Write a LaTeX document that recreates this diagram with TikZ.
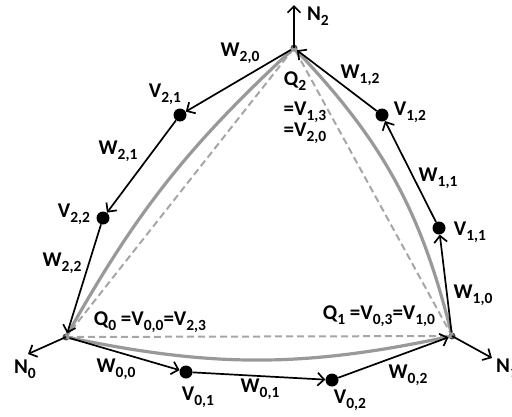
\documentclass[tikz,border=0pt]{standalone}
\usepackage{fontspec}
\setmainfont{Carlito}
\usetikzlibrary{arrows.meta}
\newcommand\ws[2]{#1\raisebox{-0.45ex}{\fontsize{15.5}{15.5}\selectfont #2}}
\begin{document}
\begin{tikzpicture}[x=1pt,y=-1pt,
  lab/.style={font=\bfseries\fontsize{21}{23}\selectfont,inner sep=0pt},
  vdot/.style={circle,fill=black,minimum size=13pt,inner sep=0pt},
  qdot/.style={circle,fill=black!70,minimum size=7pt,inner sep=0pt},
  edge/.style={line width=1.7pt,-{Straight Barb[length=6.5pt,width=13pt,line width=1.7pt]}},
  gcurve/.style={line width=3.2pt,black!40},
  dline/.style={line width=2pt,black!35,dash pattern=on 7pt off 4pt}]
\useasboundingbox (0,0) rectangle (512,416);
% vertices
\node[qdot] (q0) at (66,337) {};
\node[qdot] (q1) at (452,336) {};
\node[qdot] (q2) at (294,48) {};
\node[vdot] (v01) at (186,372) {};
\node[vdot] (v02) at (332,380) {};
\node[vdot] (v11) at (439,228) {};
\node[vdot] (v12) at (382,115) {};
\node[vdot] (v21) at (180,115) {};
\node[vdot] (v22) at (103,218) {};
\coordinate (n0) at (28,354);
\coordinate (n1) at (492,358);
\coordinate (n2) at (294,5);
% dashed triangle
\draw[dline] (q0.center) -- (q1.center) -- (q2.center) -- cycle;
% gray curves
\draw[gcurve] (q0.center) to[bend right=12] (q1.center);
\draw[gcurve] (q1.center) to[bend right=15] (q2.center);
\draw[gcurve] (q2.center) to[bend right=9] (q0.center);
% black edges
\draw[edge] (q0) -- (v01);
\draw[edge] (v01) -- (v02);
\draw[edge] (v02) -- (q1);
\draw[edge] (q1) -- (v11);
\draw[edge] (v11) -- (v12);
\draw[edge] (v12) -- (q2);
\draw[edge] (q2) -- (v21);
\draw[edge] (v21) -- (v22);
\draw[edge] (v22) -- (q0);
% normals
\draw[edge] (q0.center) -- (n0);
\draw[edge] (q1.center) -- (n1);
\draw[edge] (q2.center) -- (n2);
% labels
\node[lab] (ln2) at (318,16) {\ws{N}{2}};
\node[lab] (ln0) at (25,369) {\ws{N}{0}};
\node[lab,anchor=west] (ln1) at (496,368) {\ws{N}{1}};
\node[lab] (lw20) at (240,53) {\ws{W}{2,0}};
\node[lab] (lq2) at (295,81) {\ws{Q}{2}};
\node[lab] (lv13) at (305,112) {=\ws{V}{1,3}};
\node[lab] (lv20) at (305,133) {=\ws{V}{2,0}};
\node[lab] (lw12) at (360,75) {\ws{W}{1,2}};
\node[lab] (lv12) at (410,112) {\ws{V}{1,2}};
\node[lab] (lw11) at (438,178) {\ws{W}{1,1}};
\node[lab] (lv11) at (470,232) {\ws{V}{1,1}};
\node[lab] (lw10) at (473,295) {\ws{W}{1,0}};
\node[lab] (lq1) at (379,316) {\ws{Q}{1} =\ws{V}{0,3}=\ws{V}{1,0}};
\node[lab] (lw02) at (408,375) {\ws{W}{0,2}};
\node[lab] (lv02) at (350,400) {\ws{V}{0,2}};
\node[lab] (lw01) at (260,389) {\ws{W}{0,1}};
\node[lab] (lv01) at (198,397) {\ws{V}{0,1}};
\node[lab] (lw00) at (116,369) {\ws{W}{0,0}};
\node[lab] (lq0) at (150,322) {\ws{Q}{0} =\ws{V}{0,0}=\ws{V}{2,3}};
\node[lab] (lw22) at (62,263) {\ws{W}{2,2}};
\node[lab] (lv22) at (74,214) {\ws{V}{2,2}};
\node[lab] (lw21) at (118,151) {\ws{W}{2,1}};
\node[lab] (lv21) at (165,94) {\ws{V}{2,1}};
\end{tikzpicture}
\end{document}
